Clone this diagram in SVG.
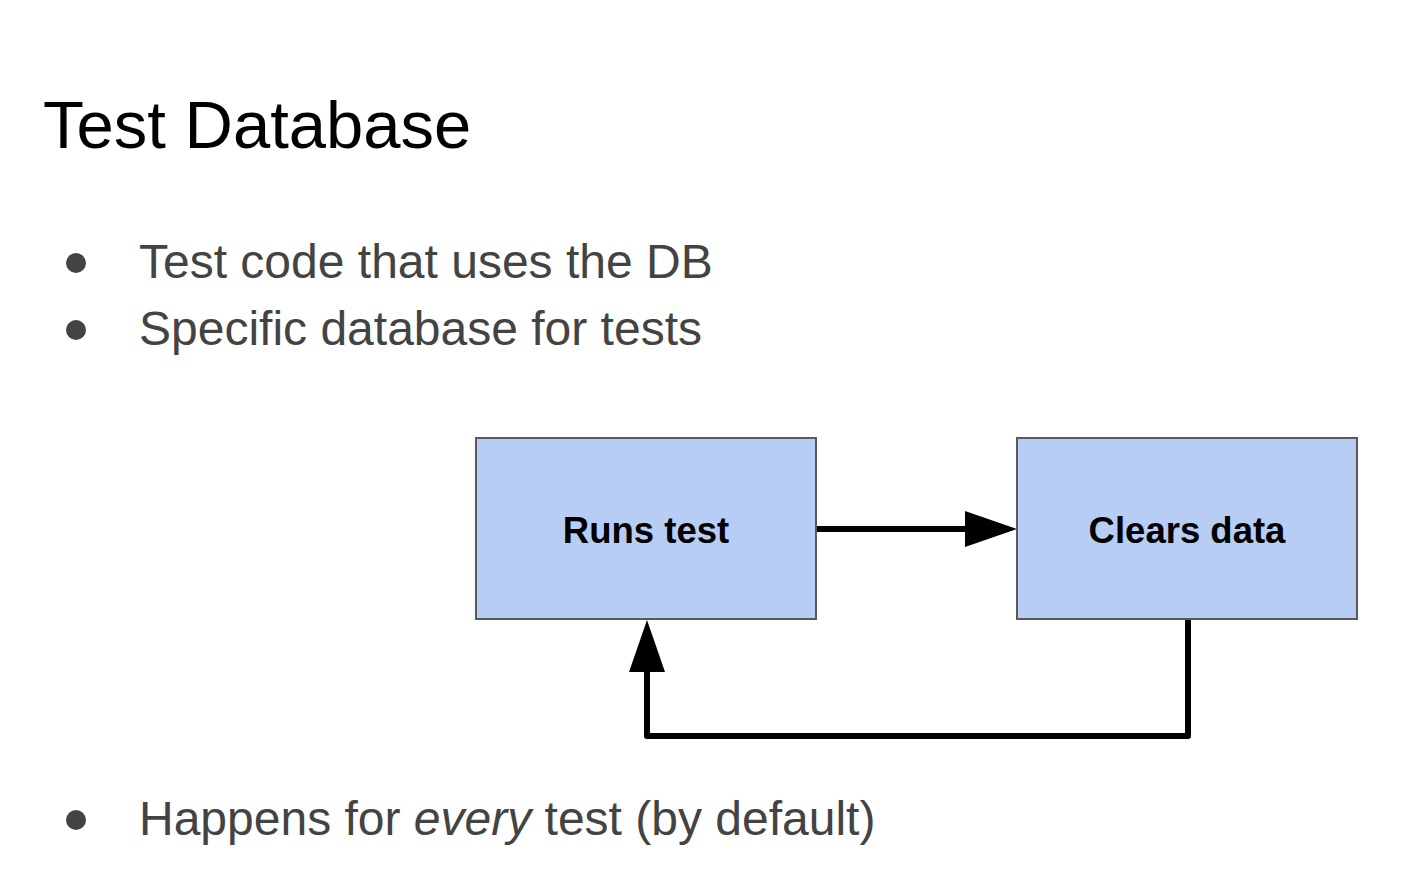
<svg xmlns="http://www.w3.org/2000/svg" width="1419" height="875" viewBox="0 0 1419 875">
<style>
.title{font-family:"Liberation Sans",Arial,sans-serif;font-size:67px;fill:#000}
.bul{font-family:"Liberation Sans",Arial,sans-serif;font-size:48px;fill:#434343}
.box{fill:#b7cdf4;stroke:#595959;stroke-width:2}
.lbl{font-family:"Liberation Sans",Arial,sans-serif;font-size:36.5px;font-weight:bold;fill:#000;text-anchor:middle}
.conn{fill:none;stroke:#000;stroke-width:6;stroke-linejoin:round;stroke-linecap:butt}
</style>
<rect width="1419" height="875" fill="#fff"/>
<text class="title" x="43" y="148">Test Database</text>
<g id="bullets">
<circle cx="76" cy="263" r="10" fill="#434343"/>
<text class="bul" x="139" y="278">Test code that uses the DB</text>
<circle cx="76" cy="330" r="10" fill="#434343"/>
<text class="bul" x="139" y="345">Specific database for tests</text>
<circle cx="76" cy="820" r="10" fill="#434343"/>
<text class="bul" x="139" y="835">Happens for <tspan font-style="italic">every</tspan> test (by default)</text>
</g>
<g id="connectors">
<path class="conn" d="M816 529 H968"/>
<polygon points="965,511 1017,529 965,547" fill="#000"/>
<path class="conn" d="M1188 619 V736 H647 V668"/>
<polygon points="629,672 647,620 665,672" fill="#000"/>
</g>
<g id="runs">
<rect class="box" x="476" y="438" width="340" height="181"/>
<text class="lbl" x="646" y="543">Runs test</text>
</g>
<g id="clears">
<rect class="box" x="1017" y="438" width="340" height="181"/>
<text class="lbl" x="1187" y="543">Clears data</text>
</g>
</svg>
